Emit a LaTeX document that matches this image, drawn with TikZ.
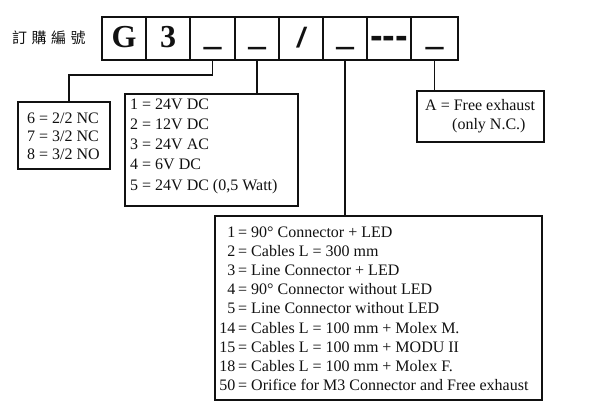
\documentclass[tikz,border=0pt]{standalone}
\usepackage{fontspec}
\setmainfont{Liberation Serif}
\newfontfamily\cjkfont{Noto Sans CJK TC}
\newfontfamily\codefont{Liberation Sans}
\newfontfamily\heavycode{Liberation Sans Bold}[FakeBold=4]
\usepackage{tikz}
\usetikzlibrary{positioning, calc}
\definecolor{cInk}{HTML}{111111}

\begin{document}
\begin{tikzpicture}[x=1pt, y=-1pt,
    cellbox/.style={draw=cInk, line width=1.8pt, minimum height=43pt, inner sep=0pt},
    optbox/.style={draw=cInk, line width=1.8pt, inner sep=0pt},
    wire/.style={draw=cInk, line width=1.3pt},
    bigchar/.style={anchor=base, inner sep=0pt, text=cInk, font=\fontsize{32}{36}\selectfont\bfseries},
    codechar/.style={anchor=base, inner sep=0pt, text=cInk, font=\heavycode\fontsize{30}{34}\selectfont},
    item/.style={anchor=base west, inner sep=0pt, text=cInk, font=\fontsize{16}{19}\selectfont},
    itemnum/.style={anchor=base east, inner sep=0pt, text=cInk, font=\fontsize{16}{19}\selectfont},
  ]
  \useasboundingbox (0,0) rectangle (590,415);

  \node[text=cInk, font=\cjkfont\fontsize{15}{18}\selectfont] (lbl) at (49,38)
    {訂\hspace{4.5pt}購\hspace{4.5pt}編\hspace{4.5pt}號};

  \foreach \i/\xa/\xb in {1/102/146, 2/146/190, 3/190/235, 4/235/279,
                          5/279/323, 6/323/367, 7/367/411, 8/411/458}{
    \pgfmathsetmacro{\w}{\xb-\xa}
    \node[cellbox, minimum width=\w pt] (c\i) at ({(\xa+\xb)/2}, 38.5) {};
  }
  \node[bigchar] (g) at (124,48) {G};
  \node[bigchar] (three) at (168,48) {3};
  \node[codechar] (u3) at (212.5,45) {\textunderscore};
  \node[codechar] (u4) at (257,45) {\textunderscore};
  \node[codechar, font=\codefont\fontsize{28}{32}\selectfont\bfseries\itshape] (sl) at (301,48) {/};
  \node[codechar] (u6) at (345,45) {\textunderscore};
  \node[codechar, font=\codefont\fontsize{38}{40}\selectfont\bfseries] (dd) at (389,48.8) {-{}-{}-};
  \node[codechar] (u8) at (434.5,45) {\textunderscore};

  \node[optbox, minimum width=92pt, minimum height=67pt] (b1) at (64,135.5) {};
  \node[optbox, minimum width=173pt, minimum height=112pt] (b2) at (211.5,150) {};
  \node[optbox, minimum width=327pt, minimum height=184pt] (b3) at (378.5,308) {};
  \node[optbox, minimum width=127pt, minimum height=51pt] (b4) at (480.5,116.5) {};

  \coordinate (k1) at (69,75);
  \draw[wire] (c3.south) |- (k1) -- (k1 |- b1.north);
  \draw[wire] (c4.south) -- (c4.south |- b2.north);
  \draw[wire] (c6.south) -- (c6.south |- b3.north);
  \draw[wire] (c8.south) -- (c8.south |- b4.north);

  \foreach \t [count=\k] in {6 = 2/2 NC, 7 = 3/2 NC, 8 = 3/2 NO}
    \node[item] (v\k) at (27, {105+18*\k}) {\t};

  \foreach \t [count=\k] in {1 = 24V DC, 2 = 12V DC, 3 = 24V AC, 4 = 6V DC,
                             {5 = 24V DC (0,5 Watt)}}
    \node[item] (p\k) at (130, {88.75+20.25*\k}) {\t};

  \foreach \n/\t [count=\k] in {1/= 90° Connector + LED,
                                2/= Cables L = 300 mm,
                                3/= Line Connector + LED,
                                4/= 90° Connector without LED,
                                5/= Line Connector without LED,
                                14/= Cables L = 100 mm + Molex M.,
                                15/= Cables L = 100 mm + MODU II,
                                18/= Cables L = 100 mm + Molex F.,
                                50/= Orifice for M3 Connector and Free exhaust}{
    \node[itemnum] (n\k) at (235.5, {217.8+19.2*\k}) {\n};
    \node[item] (e\k) at (238, {217.8+19.2*\k}) {\t};
  }

  \node[item] (a1) at (425,110.7) {A = Free exhaust};
  \node[item] (a2) at (452,129.3) {(only N.C.)};
\end{tikzpicture}
\end{document}
